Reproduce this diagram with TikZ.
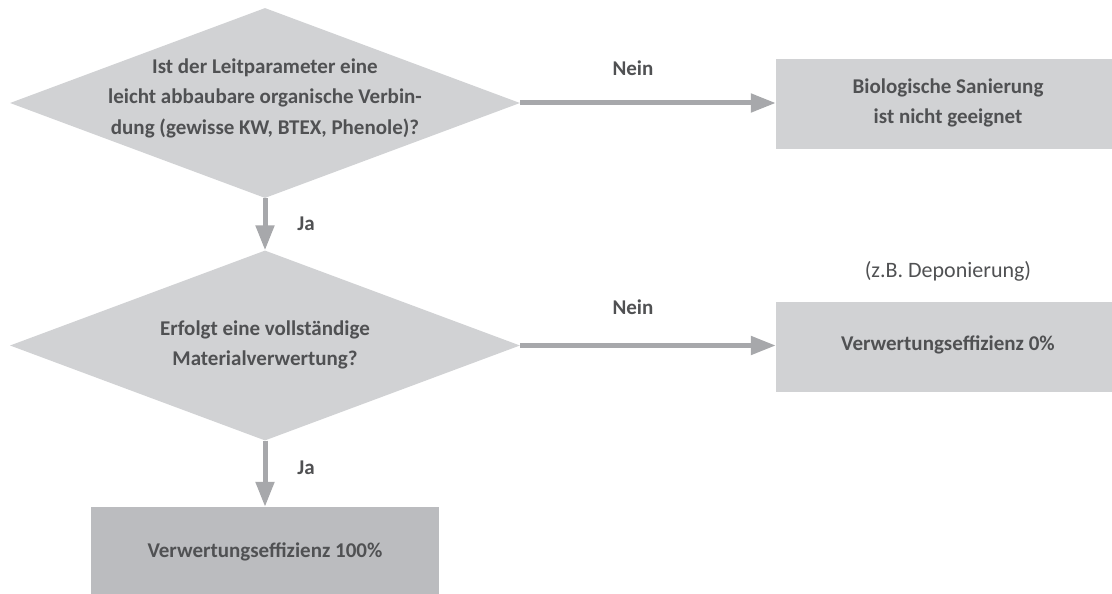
\documentclass[tikz,border=0pt]{standalone}
\usepackage{fontspec}
\setmainfont{Carlito}
\usetikzlibrary{shapes.geometric,arrows.meta}
\definecolor{shapefill}{HTML}{D1D2D4}
\definecolor{darkfill}{HTML}{BBBCBF}
\definecolor{linkgray}{HTML}{A7A8AB}
\definecolor{textgray}{HTML}{505153}
\tikzset{
  decision/.style={diamond, fill=shapefill, draw=none, inner sep=0pt,
    aspect=2.68, minimum width=510pt, minimum height=190pt},
  resultbox/.style={rectangle, fill=shapefill, draw=none, inner sep=0pt},
  label/.style={text=textgray, font=\fontsize{21}{30.5}\selectfont\bfseries, align=center, inner sep=0pt},
  note/.style={text=textgray, font=\fontsize{22}{30}\selectfont, inner sep=0pt},
  flow/.style={draw=linkgray, line width=5pt, -{Triangle[length=25pt,width=18pt]}, color=linkgray},
}
\begin{document}
\begin{tikzpicture}[x=1pt,y=-1pt]
\useasboundingbox (0,0) rectangle (1112,594);

% decisions
\node[decision] (d1) at (265,103) {};
\node[label] (t1) at (265,98) {Ist der Leitparameter eine\\leicht abbaubare organische Verbin-\\dung (gewisse KW, BTEX, Phenole)?};
\node[decision] (d2) at (265,345.5) {};
\node[label] (t2) at (265,345) {Erfolgt eine vollständige\\Materialverwertung?};

% outcomes
\node[resultbox, minimum width=336pt, minimum height=90pt] (b1) at (944,104) {};
\node[label] (t3) at (948,103) {Biologische Sanierung\\ist nicht geeignet};
\node[resultbox, minimum width=336pt, minimum height=90pt] (b2) at (944,347) {};
\node[label] (t4) at (948,345) {Verwertungseffizienz 0\%};
\node[note] (n1) at (948,271) {(z.B. Deponierung)};
\node[resultbox, fill=darkfill, minimum width=348pt, minimum height=90pt] (b3) at (265,552) {};
\node[label] (t5) at (265,552) {Verwertungseffizienz 100\%};

% connectors
\draw[flow] (d1.east) -- (d1.east -| b1.west);
\draw[flow] (d2.east) -- (d2.east -| b2.west);
\draw[flow] (d1.south) -- (d2.north);
\draw[flow] (d2.south) -- (b3.north);

% branch labels
\node[label] (l1) at (633,68) {Nein};
\node[label] (l2) at (633,307) {Nein};
\node[label] (l3) at (306,224) {Ja};
\node[label] (l4) at (306,468) {Ja};
\end{tikzpicture}
\end{document}
